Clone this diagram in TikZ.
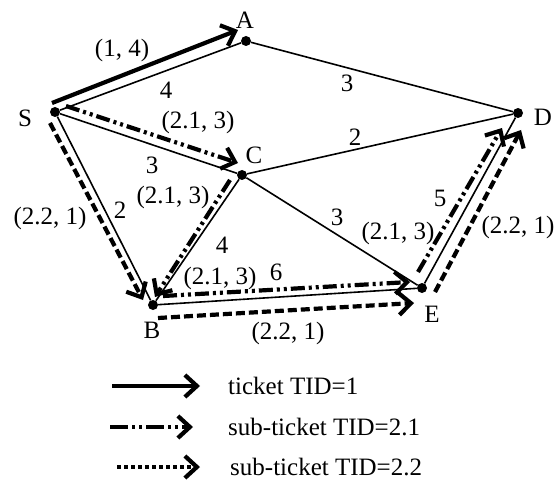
\documentclass[tikz,border=0pt]{standalone}
\usepackage{fontspec}
\setmainfont{Liberation Serif}
\usetikzlibrary{arrows.meta}
\begin{document}
\begin{tikzpicture}[x=1pt,y=-1pt,
  every node/.style={font=\fontsize{25}{30}\selectfont, inner sep=0pt},
  vertex/.style={circle,fill=black,minimum size=10pt,inner sep=0pt},
  edge/.style={line width=1.6pt},
  chev/.style={-{Straight Barb[length=12pt,width=22pt]}},
  tkt/.style={line width=4.2pt, chev},
  subone/.style={line width=4.2pt, chev, dash pattern=on 14pt off 4pt on 3pt off 4pt on 3pt off 4pt},
  subtwo/.style={line width=4.2pt, chev, dash pattern=on 9pt off 4pt},
  subtwolg/.style={line width=4.2pt, chev, dash pattern=on 4pt off 3pt}]
\useasboundingbox (0,0) rectangle (554,481);

% vertices
\node[vertex] (S) at (55,112) {};
\node[vertex] (A) at (246,41) {};
\node[vertex] (C) at (242,175) {};
\node[vertex] (D) at (518,113) {};
\node[vertex] (B) at (153,305) {};
\node[vertex] (E) at (422,288) {};

% vertex labels
\node (lS) at (25,118) {S};
\node (lA) at (245,20) {A};
\node (lC) at (254,155) {C};
\node (lD) at (543,117) {D};
\node (lB) at (152,330) {B};
\node (lE) at (432,314) {E};

% graph edges
\draw[edge] (S) -- (A);
\draw[edge] (A) -- (D);
\draw[edge] (S) -- (C);
\draw[edge] (C) -- (D);
\draw[edge] (S) -- (B);
\draw[edge] (C) -- (B);
\draw[edge] (C) -- (E);
\draw[edge] (B) -- (E);
\draw[edge] (E) -- (D);

% weights
\node (wSA) at (166,90) {4};
\node (wAD) at (347,83) {3};
\node (wSC) at (152,165) {3};
\node (wCD) at (355,137) {2};
\node (wSB) at (120,210) {2};
\node (wCB) at (222,245) {4};
\node (wBE) at (276,272) {6};
\node (wCE) at (337,217) {3};
\node (wED) at (440,198) {5};

% ticket labels
\node (k1) at (122,50) {(1, 4)};
\node (k2) at (198,122) {(2.1, 3)};
\node (k3) at (173,197) {(2.1, 3)};
\node (k4) at (50,218) {(2.2, 1)};
\node (k5) at (220,278) {(2.1, 3)};
\node (k6) at (288,333) {(2.2, 1)};
\node (k7) at (398,233) {(2.1, 3)};
\node (k8) at (518,227) {(2.2, 1)};

% ticket arrow end points
\coordinate (t1s) at (52,103);  \coordinate (t1e) at (238,30);
\coordinate (t2s) at (66,106);  \coordinate (t2e) at (238,163);
\coordinate (t3s) at (230,180); \coordinate (t3e) at (155,297);
\coordinate (t4s) at (50,123);  \coordinate (t4e) at (143,300);
\coordinate (t5s) at (163,296); \coordinate (t5e) at (410,282);
\coordinate (t6s) at (158,318); \coordinate (t6e) at (414,303);
\coordinate (t7s) at (418,272); \coordinate (t7e) at (502,128);
\coordinate (t8s) at (435,292); \coordinate (t8e) at (521,130);

\draw[tkt] (t1s) -- (t1e);
\draw[subone] (t2s) -- (t2e);
\draw[subone] (t3s) -- (t3e);
\draw[subtwo] (t4s) -- (t4e);
\draw[subone] (t5s) -- (t5e);
\draw[subtwo] (t6s) -- (t6e);
\draw[subone] (t7s) -- (t7e);
\draw[subtwo] (t8s) -- (t8e);

% legend
\coordinate (g1s) at (112,386); \coordinate (g1e) at (200,386);
\coordinate (g2s) at (110,427); \coordinate (g2e) at (193,427);
\coordinate (g3s) at (117,467); \coordinate (g3e) at (200,467);
\draw[tkt] (g1s) -- (g1e);
\draw[line width=4.2pt, chev, dash pattern=on 18pt off 4pt on 3pt off 4pt on 3pt off 4pt] (g2s) -- (g2e);
\draw[subtwolg] (g3s) -- (g3e);
\node[anchor=west] (x1) at (228,386) {ticket TID=1};
\node[anchor=west] (x2) at (228,427) {sub-ticket TID=2.1};
\node[anchor=west] (x3) at (230,467) {sub-ticket TID=2.2};
\end{tikzpicture}
\end{document}
